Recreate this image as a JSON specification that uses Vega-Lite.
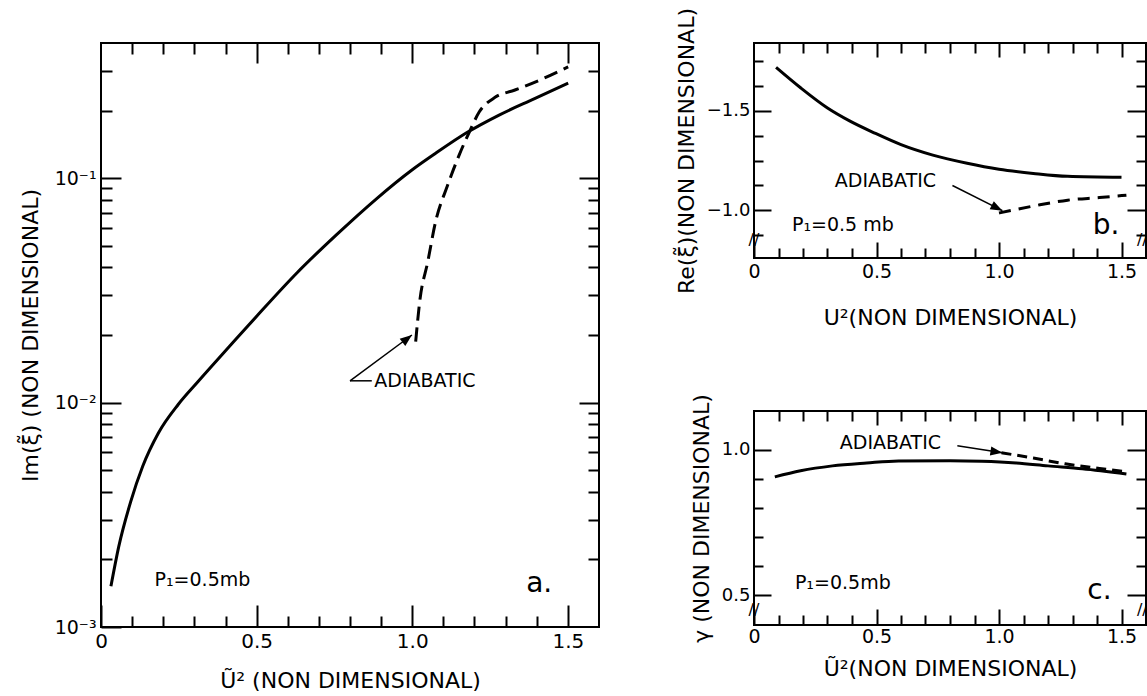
{
  "$schema": "https://vega.github.io/schema/vega-lite/v6.json",
  "background": "white",
  "padding": {"left": 18, "top": 6, "right": 0, "bottom": 0},
  "datasets": {
    "a_solid": [
      {"x": 0.032, "y": 0.00152}, {"x": 0.057, "y": 0.00228}, {"x": 0.095, "y": 0.0036},
      {"x": 0.134, "y": 0.0052}, {"x": 0.184, "y": 0.0073}, {"x": 0.248, "y": 0.0098},
      {"x": 0.312, "y": 0.0124}, {"x": 0.413, "y": 0.0178}, {"x": 0.503, "y": 0.0245},
      {"x": 0.63, "y": 0.0379}, {"x": 0.757, "y": 0.056}, {"x": 0.884, "y": 0.0807},
      {"x": 0.999, "y": 0.1087}, {"x": 1.075, "y": 0.129}, {"x": 1.177, "y": 0.16},
      {"x": 1.279, "y": 0.191}, {"x": 1.393, "y": 0.226}, {"x": 1.501, "y": 0.265}
    ],
    "a_adiab": [
      {"x": 1.011, "y": 0.0187}, {"x": 1.024, "y": 0.0282}, {"x": 1.05, "y": 0.0425},
      {"x": 1.075, "y": 0.064}, {"x": 1.113, "y": 0.0924}, {"x": 1.151, "y": 0.127},
      {"x": 1.183, "y": 0.16}, {"x": 1.215, "y": 0.197}, {"x": 1.266, "y": 0.229},
      {"x": 1.33, "y": 0.247}, {"x": 1.419, "y": 0.277}, {"x": 1.501, "y": 0.313}
    ],
    "b_solid": [
      {"x": 0.09, "y": -1.72}, {"x": 0.19, "y": -1.617}, {"x": 0.3, "y": -1.515},
      {"x": 0.39, "y": -1.45}, {"x": 0.49, "y": -1.39}, {"x": 0.6, "y": -1.33},
      {"x": 0.73, "y": -1.277}, {"x": 0.87, "y": -1.236}, {"x": 1.0, "y": -1.206},
      {"x": 1.14, "y": -1.185}, {"x": 1.28, "y": -1.17}, {"x": 1.5, "y": -1.165}
    ],
    "b_adiab": [
      {"x": 1.0, "y": -0.985}, {"x": 1.14, "y": -1.02}, {"x": 1.28, "y": -1.05},
      {"x": 1.41, "y": -1.063}, {"x": 1.52, "y": -1.075}
    ],
    "c_solid": [
      {"x": 0.085, "y": 0.907}, {"x": 0.19, "y": 0.928}, {"x": 0.32, "y": 0.945},
      {"x": 0.46, "y": 0.955}, {"x": 0.59, "y": 0.962}, {"x": 0.8, "y": 0.963},
      {"x": 0.93, "y": 0.961}, {"x": 1.07, "y": 0.955}, {"x": 1.2, "y": 0.945},
      {"x": 1.34, "y": 0.935}, {"x": 1.52, "y": 0.917}
    ],
    "c_adiab": [
      {"x": 1.01, "y": 0.99}, {"x": 1.14, "y": 0.972}, {"x": 1.27, "y": 0.952},
      {"x": 1.41, "y": 0.936}, {"x": 1.52, "y": 0.925}
    ],
    "notes": [
      {"panel": "a", "x": 0.878, "y": 0.0125, "t": "ADIABATIC"},
      {"panel": "a", "x": 0.172, "y": 0.00162, "t": "P₁=0.5mb"},
      {"panel": "b", "x": 0.33, "y": -1.145, "t": "ADIABATIC"},
      {"panel": "b", "x": 0.155, "y": -0.924, "t": "P₁=0.5 mb"},
      {"panel": "c", "x": 0.35, "y": 1.024, "t": "ADIABATIC"},
      {"panel": "c", "x": 0.167, "y": 0.541, "t": "P₁=0.5mb"}
    ],
    "letters": [
      {"panel": "a", "x": 1.408, "y": 0.00155, "t": "a."},
      {"panel": "b", "x": 1.437, "y": -0.92, "t": "b."},
      {"panel": "c", "x": 1.41, "y": 0.514, "t": "c."}
    ],
    "arrows": [
      {"panel": "a", "x": 0.8, "y": 0.0125, "x2": 0.999, "y2": 0.02},
      {"panel": "b", "x": 0.81, "y": -1.124, "x2": 1.014, "y2": -0.997},
      {"panel": "c", "x": 0.83, "y": 1.014, "x2": 1.014, "y2": 0.99}
    ],
    "stubs": [
      {"panel": "a", "x": 0.8, "y": 0.0125, "x2": 0.87, "y2": 0.0125}
    ],
    "breaks": [
      {"panel": "b", "x": 0, "y": -0.85}, {"panel": "b", "x": 1.585, "y": -0.85},
      {"panel": "c", "x": 0, "y": 0.45}, {"panel": "c", "x": 1.585, "y": 0.45}
    ]
  },
  "hconcat": [
    {
      "width": 498,
      "height": 584,
      "layer": [
        {
          "data": {"name": "a_solid"},
          "mark": {"type": "line", "color": "#000", "strokeWidth": 3, "interpolate": "monotone"},
          "encoding": {
            "x": {"field": "x", "type": "quantitative", "scale": {"domain": [0, 1.6], "nice": false, "zero": false},
              "axis": {"orient": "bottom", "values": [0, 0.1, 0.2, 0.3, 0.4, 0.5, 0.6, 0.7, 0.8, 0.9, 1, 1.1, 1.2, 1.3, 1.4, 1.5],
                "labelExpr": "datum.value == 0 ? '0' : datum.value == 0.5 ? '0.5' : datum.value == 1 ? '1.0' : datum.value == 1.5 ? '1.5' : ''",
                "tickSize": {"condition": {"test": "abs(datum.value*2 - round(datum.value*2)) < 0.001", "value": -22}, "value": -11},
                "labelPadding": 26, "labelFontSize": 20, "title": "Ũ² (NON  DIMENSIONAL)", "titlePadding": 8}},
            "y": {"field": "y", "type": "quantitative", "scale": {"type": "log", "domain": [0.001, 0.4], "nice": false},
              "axis": {"orient": "left", "values": [0.001, 0.002, 0.003, 0.004, 0.005, 0.006, 0.007, 0.008, 0.009, 0.01, 0.02, 0.03, 0.04, 0.05, 0.06, 0.07, 0.08, 0.09, 0.1, 0.2, 0.3],
                "labelExpr": "datum.value == 0.1 ? '10⁻¹' : datum.value == 0.01 ? '10⁻²' : datum.value == 0.001 ? '10⁻³' : ''",
                "tickSize": {"condition": {"test": "abs(log(datum.value)/LN10 - round(log(datum.value)/LN10)) < 0.001", "value": -20}, "value": -11},
                "labelPadding": 25, "labelFontSize": 19, "title": "Im(ξ̃) (NON DIMENSIONAL)", "titlePadding": 12}}
          }
        },
        {
          "data": {"name": "a_adiab"},
          "mark": {"type": "line", "color": "#000", "strokeWidth": 3, "strokeDash": [14, 7], "interpolate": "monotone"},
          "encoding": {
            "x": {"field": "x", "type": "quantitative", "scale": {"domain": [0, 1.6], "nice": false, "zero": false},
              "axis": {"orient": "top", "labels": false, "title": null, "values": [0.1, 0.2, 0.3, 0.4, 0.5, 0.6, 0.7, 0.8, 0.9, 1, 1.1, 1.2, 1.3, 1.4, 1.5],
                "tickSize": {"condition": {"test": "abs(datum.value*2 - round(datum.value*2)) < 0.001", "value": -20}, "value": -11}}},
            "y": {"field": "y", "type": "quantitative", "scale": {"type": "log", "domain": [0.001, 0.4], "nice": false},
              "axis": {"orient": "right", "labels": false, "title": null, "values": [0.002, 0.003, 0.004, 0.005, 0.006, 0.007, 0.008, 0.009, 0.01, 0.02, 0.03, 0.04, 0.05, 0.06, 0.07, 0.08, 0.09, 0.1, 0.2, 0.3],
                "tickSize": {"condition": {"test": "abs(log(datum.value)/LN10 - round(log(datum.value)/LN10)) < 0.001", "value": -20}, "value": -11}}}
          }
        },
        {
          "data": {"name": "notes"},
          "transform": [{"filter": "datum.panel == 'a'"}],
          "mark": {"type": "text", "align": "left", "baseline": "middle", "fontSize": 19, "font": "DejaVu Sans", "color": "#000"},
          "encoding": {
            "x": {"field": "x", "type": "quantitative", "axis": null},
            "y": {"field": "y", "type": "quantitative", "axis": null},
            "text": {"field": "t"}
          }
        },
        {
          "data": {"name": "letters"},
          "transform": [{"filter": "datum.panel == 'a'"}],
          "mark": {"type": "text", "align": "center", "baseline": "middle", "fontSize": 28, "font": "DejaVu Sans", "color": "#000"},
          "encoding": {
            "x": {"field": "x", "type": "quantitative", "axis": null},
            "y": {"field": "y", "type": "quantitative", "axis": null},
            "text": {"field": "t"}
          }
        },
        {
          "data": {"name": "arrows"},
          "transform": [{"filter": "datum.panel == 'a'"}],
          "mark": {"type": "rule", "color": "#000", "strokeWidth": 1.5},
          "encoding": {
            "x": {"field": "x", "type": "quantitative", "axis": null},
            "y": {"field": "y", "type": "quantitative", "axis": null},
            "x2": {"field": "x2"},
            "y2": {"field": "y2"}
          }
        },
        {
          "data": {"name": "stubs"},
          "transform": [{"filter": "datum.panel == 'a'"}],
          "mark": {"type": "rule", "color": "#000", "strokeWidth": 1.5},
          "encoding": {
            "x": {"field": "x", "type": "quantitative", "axis": null},
            "y": {"field": "y", "type": "quantitative", "axis": null},
            "x2": {"field": "x2"},
            "y2": {"field": "y2"}
          }
        },
        {
          "data": {"name": "arrows"},
          "transform": [{"filter": "datum.panel == 'a'"}],
          "mark": {"type": "point", "shape": "M0,0L-0.38,1L0.38,1Z", "filled": true, "color": "#000", "size": 576, "angle": 52, "opacity": 1},
          "encoding": {
            "x": {"field": "x2", "type": "quantitative", "axis": null},
            "y": {"field": "y2", "type": "quantitative", "axis": null}
          }
        }
      ],
      "resolve": {"axis": {"x": "independent", "y": "independent"}}
    },
    {
      "vconcat": [
        {
          "width": 392,
          "height": 215,
          "layer": [
            {
              "data": {"name": "b_solid"},
              "mark": {"type": "line", "color": "#000", "strokeWidth": 3, "interpolate": "monotone"},
              "encoding": {
                "x": {"field": "x", "type": "quantitative", "scale": {"domain": [0, 1.6], "nice": false, "zero": false},
                  "axis": {"orient": "bottom", "values": [0, 0.1, 0.2, 0.3, 0.4, 0.5, 0.6, 0.7, 0.8, 0.9, 1, 1.1, 1.2, 1.3, 1.4, 1.5],
                    "labelExpr": "datum.value == 0 ? '0' : datum.value == 0.5 ? '0.5' : datum.value == 1 ? '1.0' : datum.value == 1.5 ? '1.5' : ''",
                    "tickSize": {"condition": {"test": "abs(datum.value*2 - round(datum.value*2)) < 0.001", "value": -16}, "value": -10},
                    "labelPadding": 20, "labelFontSize": 19, "title": "U²(NON DIMENSIONAL)", "titlePadding": 20}},
                "y": {"field": "y", "type": "quantitative", "scale": {"domain": [-1.843, -0.758], "nice": false, "zero": false, "reverse": true},
                  "axis": {"orient": "left", "values": [-1.75, -1.625, -1.5, -1.375, -1.25, -1.125, -1, -0.875],
                    "labelExpr": "datum.value == -1.5 ? '−1.5' : datum.value == -1 ? '−1.0' : ''",
                    "tickSize": {"condition": {"test": "abs(datum.value*2 - round(datum.value*2)) < 0.001", "value": -17}, "value": -9},
                    "labelPadding": 21, "labelFontSize": 18, "title": "Re(ξ̃)(NON DIMENSIONAL)", "titlePadding": 8}}
              }
            },
            {
              "data": {"name": "b_adiab"},
              "mark": {"type": "line", "color": "#000", "strokeWidth": 3, "strokeDash": [12, 8], "interpolate": "monotone"},
              "encoding": {
                "x": {"field": "x", "type": "quantitative", "scale": {"domain": [0, 1.6], "nice": false, "zero": false},
                  "axis": {"orient": "top", "labels": false, "title": null, "values": [0.1, 0.2, 0.3, 0.4, 0.5, 0.6, 0.7, 0.8, 0.9, 1, 1.1, 1.2, 1.3, 1.4, 1.5],
                    "tickSize": {"condition": {"test": "abs(datum.value*2 - round(datum.value*2)) < 0.001", "value": -14}, "value": -10}}},
                "y": {"field": "y", "type": "quantitative", "scale": {"domain": [-1.843, -0.758], "nice": false, "zero": false, "reverse": true},
                  "axis": {"orient": "right", "labels": false, "title": null, "values": [-1.75, -1.625, -1.5, -1.375, -1.25, -1.125, -1, -0.875],
                    "tickSize": {"condition": {"test": "abs(datum.value*2 - round(datum.value*2)) < 0.001", "value": -19}, "value": -10}}}
              }
            },
            {
              "data": {"name": "notes"},
              "transform": [{"filter": "datum.panel == 'b'"}],
              "mark": {"type": "text", "align": "left", "baseline": "middle", "fontSize": 19, "font": "DejaVu Sans", "color": "#000"},
              "encoding": {
                "x": {"field": "x", "type": "quantitative", "axis": null},
                "y": {"field": "y", "type": "quantitative", "axis": null},
                "text": {"field": "t"}
              }
            },
            {
              "data": {"name": "letters"},
              "transform": [{"filter": "datum.panel == 'b'"}],
              "mark": {"type": "text", "align": "center", "baseline": "middle", "fontSize": 28, "font": "DejaVu Sans", "color": "#000"},
              "encoding": {
                "x": {"field": "x", "type": "quantitative", "axis": null},
                "y": {"field": "y", "type": "quantitative", "axis": null},
                "text": {"field": "t"}
              }
            },
            {
              "data": {"name": "breaks"},
              "transform": [{"filter": "datum.panel == 'b'"}],
              "mark": {"type": "text", "align": "center", "baseline": "middle", "fontSize": 16, "font": "DejaVu Sans", "color": "#000", "text": "//"},
              "encoding": {
                "x": {"field": "x", "type": "quantitative", "axis": null},
                "y": {"field": "y", "type": "quantitative", "axis": null}
              }
            },
            {
              "data": {"name": "arrows"},
              "transform": [{"filter": "datum.panel == 'b'"}],
              "mark": {"type": "rule", "color": "#000", "strokeWidth": 1.5},
              "encoding": {
                "x": {"field": "x", "type": "quantitative", "axis": null},
                "y": {"field": "y", "type": "quantitative", "axis": null},
                "x2": {"field": "x2"},
                "y2": {"field": "y2"}
              }
            },
            {
              "data": {"name": "arrows"},
              "transform": [{"filter": "datum.panel == 'b'"}],
              "mark": {"type": "point", "shape": "M0,0L-0.38,1L0.38,1Z", "filled": true, "color": "#000", "size": 576, "angle": 117, "opacity": 1},
              "encoding": {
                "x": {"field": "x2", "type": "quantitative", "axis": null},
                "y": {"field": "y2", "type": "quantitative", "axis": null}
              }
            }
          ],
          "resolve": {"axis": {"x": "independent", "y": "independent"}}
        },
        {
          "width": 392,
          "height": 214,
          "layer": [
            {
              "data": {"name": "c_solid"},
              "mark": {"type": "line", "color": "#000", "strokeWidth": 3, "interpolate": "monotone"},
              "encoding": {
                "x": {"field": "x", "type": "quantitative", "scale": {"domain": [0, 1.6], "nice": false, "zero": false},
                  "axis": {"orient": "bottom", "values": [0, 0.1, 0.2, 0.3, 0.4, 0.5, 0.6, 0.7, 0.8, 0.9, 1, 1.1, 1.2, 1.3, 1.4, 1.5],
                    "labelExpr": "datum.value == 0 ? '0' : datum.value == 0.5 ? '0.5' : datum.value == 1 ? '1.0' : datum.value == 1.5 ? '1.5' : ''",
                    "tickSize": {"condition": {"test": "abs(datum.value*2 - round(datum.value*2)) < 0.001", "value": -16}, "value": -10},
                    "labelPadding": 18, "labelFontSize": 19, "title": "Ũ²(NON DIMENSIONAL)", "titlePadding": 6}},
                "y": {"field": "y", "type": "quantitative", "scale": {"domain": [0.397, 1.134], "nice": false, "zero": false},
                  "axis": {"orient": "left", "values": [0.5, 0.6, 0.7, 0.8, 0.9, 1],
                    "labelExpr": "datum.value == 0.5 ? '0.5' : datum.value == 1 ? '1.0' : ''",
                    "tickSize": {"condition": {"test": "abs(datum.value*2 - round(datum.value*2)) < 0.001", "value": -17}, "value": -9},
                    "labelPadding": 21, "labelFontSize": 18, "title": "γ (NON DIMENSIONAL)", "titlePadding": 8}}
              }
            },
            {
              "data": {"name": "c_adiab"},
              "mark": {"type": "line", "color": "#000", "strokeWidth": 3, "strokeDash": [10, 6], "interpolate": "monotone"},
              "encoding": {
                "x": {"field": "x", "type": "quantitative", "scale": {"domain": [0, 1.6], "nice": false, "zero": false},
                  "axis": {"orient": "top", "labels": false, "title": null, "values": [0.1, 0.2, 0.3, 0.4, 0.5, 0.6, 0.7, 0.8, 0.9, 1, 1.1, 1.2, 1.3, 1.4, 1.5],
                    "tickSize": {"condition": {"test": "abs(datum.value*2 - round(datum.value*2)) < 0.001", "value": -14}, "value": -10}}},
                "y": {"field": "y", "type": "quantitative", "scale": {"domain": [0.397, 1.134], "nice": false, "zero": false},
                  "axis": {"orient": "right", "labels": false, "title": null, "values": [0.5, 0.6, 0.7, 0.8, 0.9, 1],
                    "tickSize": {"condition": {"test": "abs(datum.value*2 - round(datum.value*2)) < 0.001", "value": -19}, "value": -10}}}
              }
            },
            {
              "data": {"name": "notes"},
              "transform": [{"filter": "datum.panel == 'c'"}],
              "mark": {"type": "text", "align": "left", "baseline": "middle", "fontSize": 19, "font": "DejaVu Sans", "color": "#000"},
              "encoding": {
                "x": {"field": "x", "type": "quantitative", "axis": null},
                "y": {"field": "y", "type": "quantitative", "axis": null},
                "text": {"field": "t"}
              }
            },
            {
              "data": {"name": "letters"},
              "transform": [{"filter": "datum.panel == 'c'"}],
              "mark": {"type": "text", "align": "center", "baseline": "middle", "fontSize": 28, "font": "DejaVu Sans", "color": "#000"},
              "encoding": {
                "x": {"field": "x", "type": "quantitative", "axis": null},
                "y": {"field": "y", "type": "quantitative", "axis": null},
                "text": {"field": "t"}
              }
            },
            {
              "data": {"name": "breaks"},
              "transform": [{"filter": "datum.panel == 'c'"}],
              "mark": {"type": "text", "align": "center", "baseline": "middle", "fontSize": 16, "font": "DejaVu Sans", "color": "#000", "text": "//"},
              "encoding": {
                "x": {"field": "x", "type": "quantitative", "axis": null},
                "y": {"field": "y", "type": "quantitative", "axis": null}
              }
            },
            {
              "data": {"name": "arrows"},
              "transform": [{"filter": "datum.panel == 'c'"}],
              "mark": {"type": "rule", "color": "#000", "strokeWidth": 1.5},
              "encoding": {
                "x": {"field": "x", "type": "quantitative", "axis": null},
                "y": {"field": "y", "type": "quantitative", "axis": null},
                "x2": {"field": "x2"},
                "y2": {"field": "y2"}
              }
            },
            {
              "data": {"name": "arrows"},
              "transform": [{"filter": "datum.panel == 'c'"}],
              "mark": {"type": "point", "shape": "M0,0L-0.38,1L0.38,1Z", "filled": true, "color": "#000", "size": 576, "angle": 99, "opacity": 1},
              "encoding": {
                "x": {"field": "x2", "type": "quantitative", "axis": null},
                "y": {"field": "y2", "type": "quantitative", "axis": null}
              }
            }
          ],
          "resolve": {"axis": {"x": "independent", "y": "independent"}}
        }
      ],
      "spacing": 153,
      "bounds": "flush"
    }
  ],
  "spacing": 73,
  "config": {
    "view": {"stroke": "#000", "strokeWidth": 2},
    "font": "DejaVu Sans",
    "axis": {
      "domain": false, "grid": false,
      "labelFont": "DejaVu Sans", "labelColor": "#000", "labelFlush": false, "labelOverlap": false,
      "titleFont": "DejaVu Sans", "titleFontSize": 22, "titleFontWeight": "normal", "titleColor": "#000",
      "tickColor": "#000", "tickWidth": 2
    }
  }
}
